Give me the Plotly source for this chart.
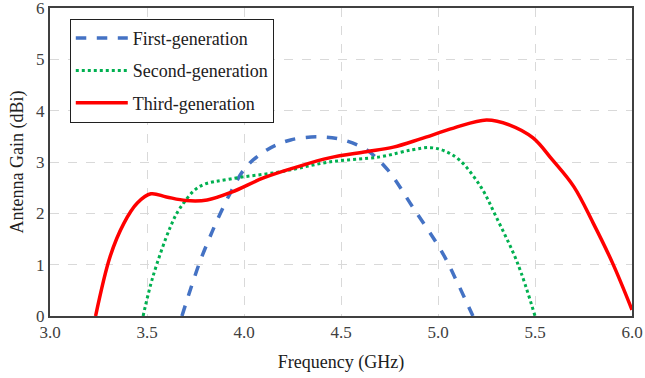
import plotly.graph_objects as go

# First-generation
f1 = [3.68, 3.77, 3.82, 3.86, 3.93, 4.01, 4.12, 4.24, 4.39, 4.51, 4.63, 4.74, 4.87, 5.02, 5.10, 5.18]
g1 = [0.0, 1.03, 1.50, 1.85, 2.40, 2.90, 3.24, 3.43, 3.49, 3.43, 3.24, 2.85, 2.12, 1.25, 0.65, 0.0]
# Second-generation
f2 = [3.48, 3.53, 3.62, 3.67, 3.77, 3.93, 4.19, 4.44, 4.70, 4.87, 4.96, 5.03, 5.11, 5.22, 5.30, 5.41, 5.50]
g2 = [0.0, 0.76, 1.73, 2.10, 2.52, 2.67, 2.81, 3.00, 3.10, 3.24, 3.28, 3.22, 3.04, 2.52, 1.93, 1.03, 0.0]
# Third-generation
f3 = [3.235, 3.31, 3.38, 3.45, 3.52, 3.60, 3.70, 3.81, 3.94, 4.10, 4.27, 4.44, 4.63, 4.77, 4.91,
      5.08, 5.25, 5.37, 5.49, 5.59, 5.70, 5.80, 5.90, 6.0]
g3 = [0.0, 1.16, 1.80, 2.20, 2.38, 2.32, 2.25, 2.26, 2.42, 2.69, 2.90, 3.08, 3.20, 3.29, 3.45,
      3.66, 3.82, 3.72, 3.47, 3.04, 2.52, 1.81, 1.03, 0.12]

names = ["First-generation", "Second-generation", "Third-generation"]
xticks = [3.0, 3.5, 4.0, 4.5, 5.0, 5.5, 6.0]
xticktext = ["3.0", "3.5", "4.0", "4.5", "5.0", "5.5", "6.0"]
yticks = [0, 1, 2, 3, 4, 5, 6]

FONT = "Liberation Serif, Times New Roman, serif"
FS = 18
TFS = 17

fig = go.Figure()
fig.add_trace(go.Scatter(x=f1, y=g1, mode="lines", name=names[0], legendgroup="a",
                         line=dict(color="#4472C4", width=3.5, dash="dash", shape="spline")))
fig.add_trace(go.Scatter(x=f2, y=g2, mode="lines", name=names[1], legendgroup="b",
                         line=dict(color="#00B050", width=3, dash="dot", shape="spline")))
fig.add_trace(go.Scatter(x=f3, y=g3, mode="lines", name=names[2], legendgroup="c",
                         line=dict(color="#FF0000", width=3.5, shape="spline")))

fig.update_layout(
    width=645, height=378,
    margin=dict(l=50, r=13, t=8, b=62),
    paper_bgcolor="white", plot_bgcolor="white",
    font=dict(family=FONT, size=FS, color="#404040"),
    showlegend=True,
    legend=dict(x=0.034, y=0.965, xanchor="left", yanchor="top",
                bgcolor="white", bordercolor="#202020", borderwidth=1,
                font=dict(family=FONT, size=FS, color="#202020"),
                itemwidth=52, tracegroupgap=6),
    xaxis=dict(range=[3.0, 6.0], tickvals=xticks, ticktext=xticktext,
               tickfont=dict(family=FONT, size=TFS, color="#404040"),
               showgrid=True, gridcolor="#D9D9D9", griddash="dash", gridwidth=1,
               showline=True, linecolor="#404040", linewidth=2, mirror=True,
               ticks="", zeroline=False, automargin=False, ticklabeloverflow="allow",
               title=dict(text="Frequency (GHz)", font=dict(family=FONT, size=FS, color="#202020"), standoff=14)),
    yaxis=dict(range=[0, 6], tickvals=yticks,
               tickfont=dict(family=FONT, size=TFS, color="#404040"),
               showgrid=True, gridcolor="#D9D9D9", griddash="dash", gridwidth=1,
               showline=True, linecolor="#404040", linewidth=2, mirror=True,
               ticks="", zeroline=False, automargin=False, ticklabeloverflow="allow",
               title=dict(text="Antenna Gain (dBi)", font=dict(family=FONT, size=FS, color="#202020"), standoff=8)),
)

fig.write_html("out.html", config={"displayModeBar": False},
               post_script="document.body.style.margin='0';")
